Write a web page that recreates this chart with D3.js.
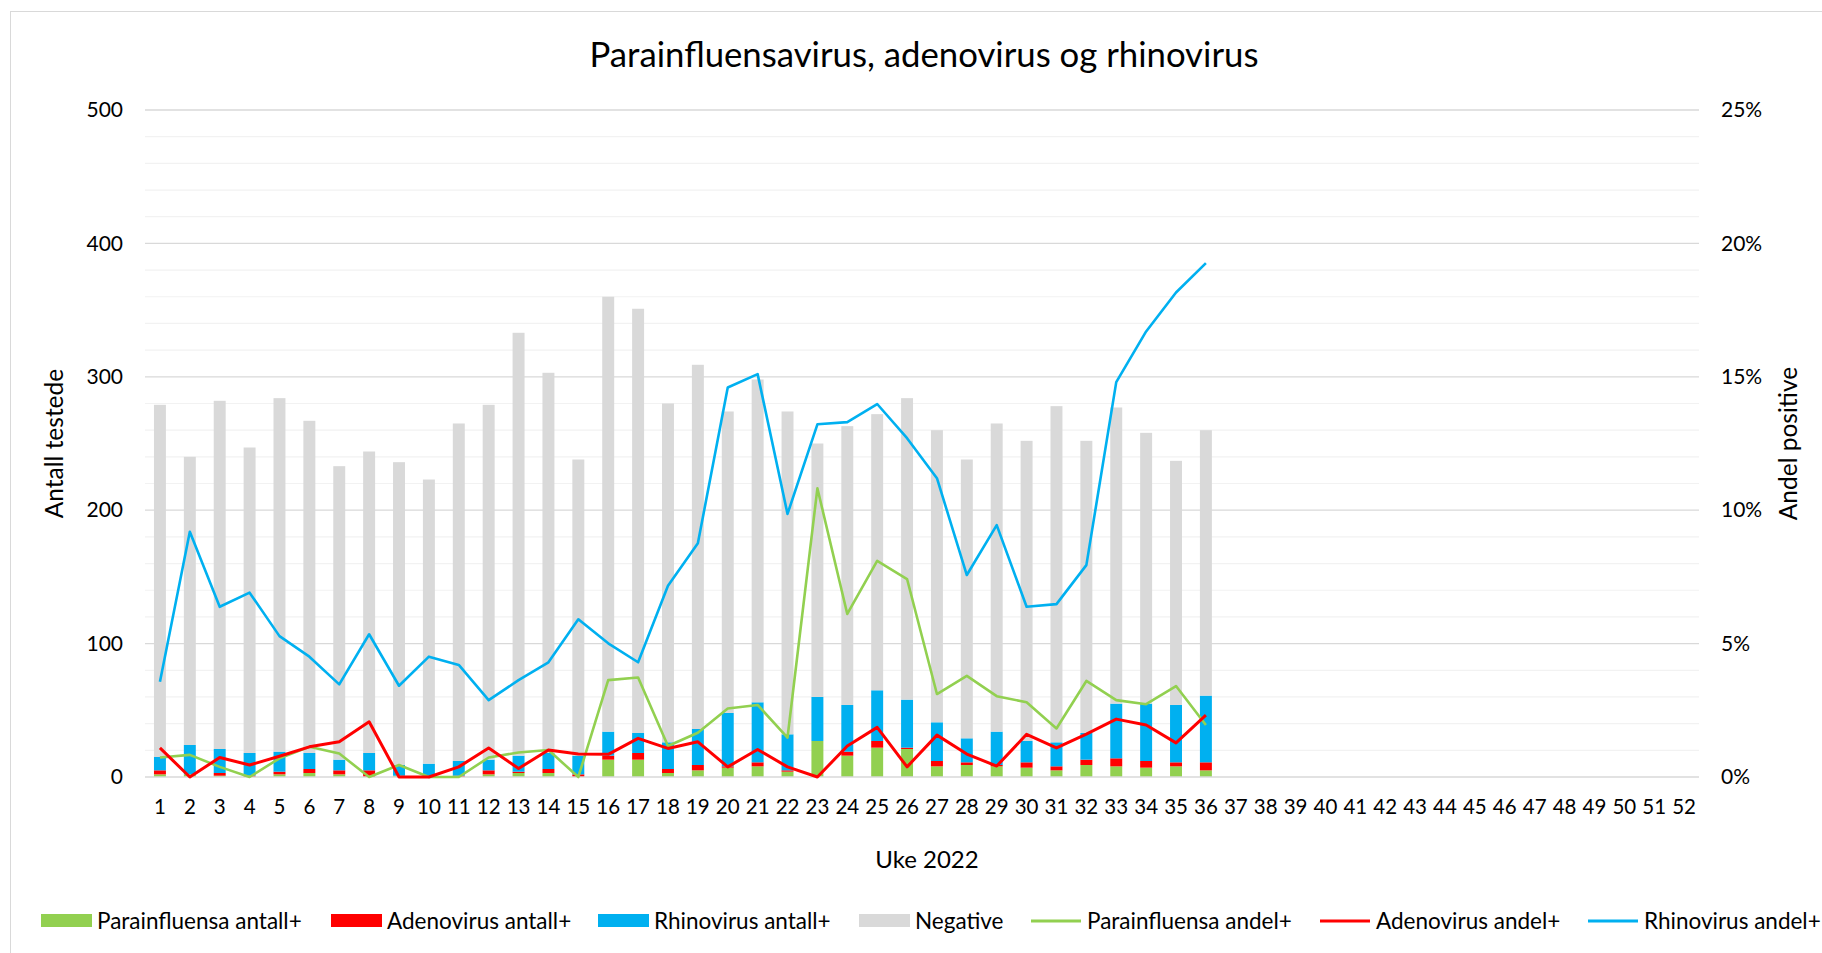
<!DOCTYPE html>
<html><head><meta charset="utf-8">
<script src="https://cdn.jsdelivr.net/npm/d3@7/dist/d3.min.js"></script>
<style>
body{margin:0;background:#fff}
svg{display:block}
text{font-family:Lato,"Noto Sans",sans-serif;fill:#000}
</style>
</head><body>
<svg id="chart" width="1822" height="953"></svg>
<script>
// ---------- DATA ----------
const weeks = ["1","2","3","4","5","6","7","8","9","10","11","12","13","14","15","16","17","18","19","20","21","22","23","24","25","26",
  "27","28","29","30","31","32","33","34","35","36","37","38","39","40","41","42","43","44","45","46","47","48","49","50","51","52"];
const paraCount  = [2,2,1,0,2,3,2,0,1,0,0,2,3,3,0,13,13,3,5,7,8,4,27,16,22,21,8,9,8,7,5,9,8,7,8,5];
const adenoCount = [3,0,2,1,2,3,3,5,0,0,1,3,1,3,2,3,5,3,4,1,3,1,0,3,5,1,4,2,1,4,3,4,6,5,3,6];
const rhinoCount = [10,22,18,17,15,12,8,13,8,10,11,8,12,12,14,18,15,20,27,40,45,27,33,35,38,36,29,18,25,16,18,20,41,43,43,50];
const negative   = [264,216,261,229,265,249,220,226,227,213,253,266,317,285,222,326,318,254,273,226,242,242,190,209,207,226,
  219,209,231,225,252,219,222,203,183,199];
const paraShare  = [0.73,0.83,0.38,0,0.70,1.13,0.88,0,0.45,0,0,0.73,0.92,1.01,0,3.63,3.73,1.16,1.66,2.57,2.70,1.48,10.82,6.11,
  8.10,7.42,3.11,3.79,3.03,2.80,1.82,3.60,2.88,2.73,3.41,1.95];
const adenoShare = [1.09,0,0.73,0.45,0.78,1.13,1.32,2.07,0,0,0.38,1.09,0.32,1.01,0.86,0.85,1.45,1.07,1.32,0.38,1.03,0.38,0,1.16,
  1.86,0.38,1.57,0.86,0.41,1.60,1.09,1.61,2.17,1.95,1.28,2.32];
const rhinoShare = [3.57,9.19,6.38,6.91,5.28,4.51,3.47,5.35,3.42,4.51,4.20,2.88,3.63,4.30,5.91,5.01,4.30,7.17,8.76,14.60,15.10,
  9.86,13.22,13.30,13.98,12.70,11.20,7.57,9.44,6.38,6.48,7.94,14.80,16.70,18.16,19.26];
const leftTicks  = [0,100,200,300,400,500];
const rightTicks = [0,5,10,15,20,25];
const title = "Parainfluensavirus, adenovirus og rhinovirus";
const xTitle = "Uke 2022", yTitle = "Antall testede", y2Title = "Andel positive";

// ---------- LAYOUT ----------
const W = 1822, H = 953;
const L = 145, R = 1699, T = 110, B = 777;
const colors = {para:"#92D050", adeno:"#FF0000", rhino:"#00B0F0", neg:"#D9D9D9"};

const svg = d3.select("#chart");
svg.append("rect").attr("x",10.5).attr("y",11.5).attr("width",W+20).attr("height",H+20)
  .attr("fill","#fff").attr("stroke","#D9D9D9").attr("stroke-width",1);

const x = d3.scaleBand().domain(weeks).range([L,R]).paddingInner(0.6).paddingOuter(0.3);
const y = d3.scaleLinear().domain([0,500]).range([B,T]);
const y2 = d3.scaleLinear().domain([0,25]).range([B,T]);

// gridlines
const minor = d3.range(20,500,20).filter(v=>v%100!==0);
svg.append("g").selectAll("line").data(minor).join("line")
  .attr("x1",L).attr("x2",R).attr("y1",d=>y(d)).attr("y2",d=>y(d))
  .attr("stroke","#F2F2F2").attr("stroke-width",1.2);
svg.append("g").selectAll("line").data(leftTicks.filter(d=>d>0)).join("line")
  .attr("x1",L).attr("x2",R).attr("y1",d=>y(d)).attr("y2",d=>y(d))
  .attr("stroke","#D9D9D9").attr("stroke-width",1.3);

// stacked bars
const rows = paraCount.map((v,i)=>({week:weeks[i],para:v,adeno:adenoCount[i],rhino:rhinoCount[i],neg:negative[i]}));
const stack = d3.stack().keys(["para","adeno","rhino","neg"])(rows);
svg.append("g").selectAll("g").data(stack).join("g").attr("fill",d=>colors[d.key])
  .selectAll("rect").data(d=>d).join("rect")
  .attr("x",d=>x(d.data.week)).attr("width",x.bandwidth())
  .attr("y",d=>y(d[1])).attr("height",d=>y(d[0])-y(d[1]));

// baseline
svg.append("line").attr("x1",L).attr("x2",R).attr("y1",B).attr("y2",B)
  .attr("stroke","#D9D9D9").attr("stroke-width",1.6);

// lines
const cx = w => x(w)+x.bandwidth()/2;
const line = d3.line().x((d,i)=>cx(weeks[i])).y(d=>y2(d));
[[paraShare,colors.para,2.6],[adenoShare,colors.adeno,3],[rhinoShare,colors.rhino,2.6]].forEach(([s,c,w])=>{
  svg.append("path").datum(s).attr("d",line).attr("fill","none").attr("stroke",c)
    .attr("stroke-width",w).attr("stroke-linejoin","round");
});

// axes
const fs = 21;
const ax = svg.append("g").attr("transform",`translate(${L},0)`)
  .call(d3.axisLeft(y).tickValues(leftTicks).tickSize(0).tickPadding(22));
ax.select(".domain").remove();
ax.selectAll("text").attr("font-size",fs).attr("font-family","Lato").attr("fill","#000");
const ax2 = svg.append("g").attr("transform",`translate(${R},0)`)
  .call(d3.axisRight(y2).tickValues(rightTicks).tickSize(0).tickPadding(22).tickFormat(d=>d+"%"));
ax2.select(".domain").remove();
ax2.selectAll("text").attr("font-size",fs).attr("font-family","Lato").attr("fill","#000");
const axx = svg.append("g").attr("transform",`translate(0,${B})`)
  .call(d3.axisBottom(x).tickSize(0).tickPadding(22));
axx.select(".domain").remove();
axx.selectAll("text").attr("font-size",20.5).attr("font-family","Lato").attr("fill","#000");

// titles
const t = svg.append("text").attr("x",924).attr("y",67).attr("text-anchor","middle").attr("font-size",28).text(title);
const tw = t.node().getComputedTextLength();
t.attr("font-size",28*669/tw);
svg.append("text").attr("x",927).attr("y",868).attr("text-anchor","middle").attr("font-size",24).text(xTitle);
svg.append("text").attr("transform",`translate(63,${(T+B)/2}) rotate(-90)`).attr("text-anchor","middle").attr("font-size",24.5).text(yTitle);
svg.append("text").attr("transform",`translate(1797,${(T+B)/2}) rotate(-90)`).attr("text-anchor","middle").attr("font-size",24.5).text(y2Title);

// legend
const legend = [
  {label:"Parainfluensa antall+", key:"para", type:"rect", x:41},
  {label:"Adenovirus antall+", key:"adeno", type:"rect", x:331},
  {label:"Rhinovirus antall+", key:"rhino", type:"rect", x:598},
  {label:"Negative", key:"neg", type:"rect", x:859},
  {label:"Parainfluensa andel+", key:"para", type:"line", x:1031},
  {label:"Adenovirus andel+", key:"adeno", type:"line", x:1320},
  {label:"Rhinovirus andel+", key:"rhino", type:"line", x:1588}
];
const ly = 921;
const lg = svg.append("g").selectAll("g").data(legend).join("g");
lg.filter(d=>d.type==="rect").append("rect").attr("x",d=>d.x).attr("y",ly-7).attr("width",51).attr("height",13)
  .attr("fill",d=>colors[d.key]);
lg.filter(d=>d.type==="line").append("line").attr("x1",d=>d.x).attr("x2",d=>d.x+50).attr("y1",ly).attr("y2",ly)
  .attr("stroke",d=>colors[d.key]).attr("stroke-width",3);
lg.append("text").attr("x",d=>d.x+56).attr("y",ly).attr("dy","0.35em").attr("font-size",22.5).text(d=>d.label);
</script>
</body></html>
